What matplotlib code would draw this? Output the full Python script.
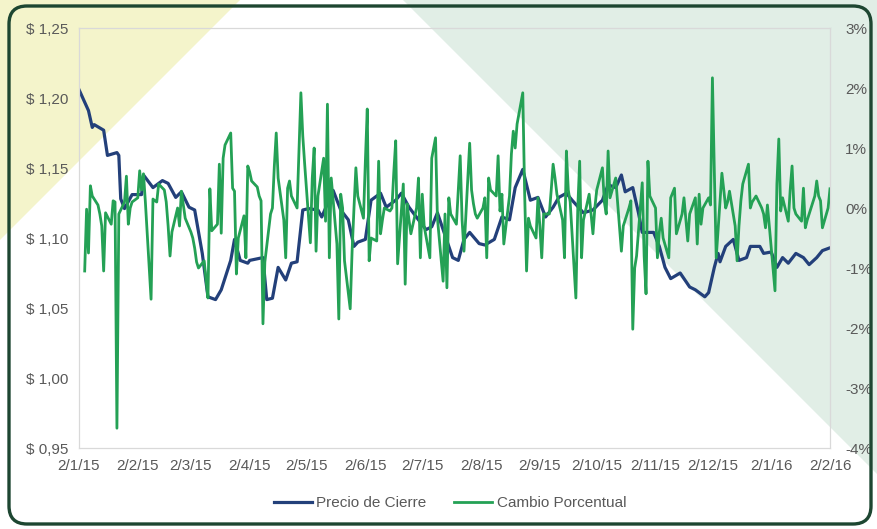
# coding:utf-8
import numpy as np
import pandas as pd
import matplotlib
matplotlib.use('Agg')
import matplotlib.pyplot as plt
from matplotlib.patches import Polygon, FancyBboxPatch
from matplotlib.ticker import FuncFormatter, FixedLocator

plt.rcParams['font.family'] = ['Liberation Sans', 'DejaVu Sans']

# precio de cierre (USD)
fechas_precio = [
    '2015-01-02', '2015-01-07', '2015-01-09', '2015-01-10', '2015-01-15', '2015-01-17', '2015-01-22', '2015-01-23', '2015-01-24', '2015-01-26',
    '2015-01-30', '2015-02-04', '2015-02-05', '2015-02-10', '2015-02-15', '2015-02-18', '2015-02-22', '2015-02-25', '2015-03-01', '2015-03-04',
    '2015-03-08', '2015-03-11', '2015-03-15', '2015-03-18', '2015-03-23', '2015-03-25', '2015-03-28', '2015-04-01', '2015-04-02', '2015-04-09',
    '2015-04-11', '2015-04-14', '2015-04-17', '2015-04-21', '2015-04-24', '2015-04-27', '2015-04-30', '2015-05-03', '2015-05-08', '2015-05-10',
    '2015-05-16', '2015-05-20', '2015-05-24', '2015-05-27', '2015-05-29', '2015-06-02', '2015-06-05', '2015-06-10', '2015-06-13', '2015-06-18',
    '2015-06-21', '2015-06-25', '2015-06-30', '2015-07-04', '2015-07-07', '2015-07-10', '2015-07-13', '2015-07-18', '2015-07-21', '2015-07-24',
    '2015-07-27', '2015-08-01', '2015-08-04', '2015-08-09', '2015-08-13', '2015-08-17', '2015-08-20', '2015-08-24', '2015-08-28', '2015-09-01',
    '2015-09-05', '2015-09-09', '2015-09-12', '2015-09-16', '2015-09-19', '2015-09-25', '2015-09-30', '2015-10-05', '2015-10-08', '2015-10-12',
    '2015-10-15', '2015-10-17', '2015-10-21', '2015-10-24', '2015-10-26', '2015-11-01', '2015-11-04', '2015-11-07', '2015-11-10', '2015-11-15',
    '2015-11-20', '2015-11-23', '2015-11-28', '2015-11-30', '2015-12-03', '2015-12-05', '2015-12-06', '2015-12-09', '2015-12-13', '2015-12-16',
    '2015-12-20', '2015-12-22', '2015-12-27', '2015-12-29', '2016-01-02', '2016-01-05', '2016-01-08', '2016-01-11', '2016-01-15', '2016-01-19',
    '2016-01-22', '2016-01-26', '2016-01-29', '2016-02-02']
precio_cierre = [
    1.206, 1.191, 1.179, 1.181, 1.177, 1.159, 1.161, 1.159, 1.128, 1.121,
    1.131, 1.131, 1.145, 1.136, 1.141, 1.139, 1.129, 1.133, 1.122, 1.120,
    1.089, 1.058, 1.056, 1.063, 1.084, 1.099, 1.084, 1.082, 1.084, 1.086,
    1.056, 1.057, 1.079, 1.070, 1.082, 1.083, 1.120, 1.121, 1.120, 1.115,
    1.134, 1.120, 1.113, 1.094, 1.097, 1.099, 1.127, 1.132, 1.122, 1.127,
    1.132, 1.122, 1.113, 1.106, 1.108, 1.118, 1.106, 1.086, 1.084, 1.099,
    1.104, 1.096, 1.095, 1.099, 1.115, 1.113, 1.136, 1.149, 1.127, 1.129,
    1.115, 1.122, 1.129, 1.132, 1.127, 1.118, 1.120, 1.127, 1.138, 1.136,
    1.145, 1.133, 1.136, 1.118, 1.104, 1.104, 1.094, 1.079, 1.071, 1.075,
    1.065, 1.063, 1.058, 1.061, 1.079, 1.089, 1.083, 1.094, 1.099, 1.084,
    1.086, 1.094, 1.094, 1.089, 1.090, 1.079, 1.086, 1.082, 1.089, 1.086,
    1.081, 1.086, 1.091, 1.093]

# cambio porcentual diario (%), un valor por dia habil desde el 5/1/15
inicio_cambio = '2015-01-05'
cambio_porcentual = [
    -1.05, -0.02, -0.75, 0.37, 0.20, 0.05, -0.10, -0.30, -1.05, -0.08,
    -0.27, 0.12, 0.10, -3.67, -0.10, 0.10, 0.53, -0.27, 0.00, 0.10,
    0.17, 0.62, 0.30, 0.57, 0.10, -1.52, 0.15, 0.12, 0.10, 0.40,
    0.30, 0.10, -0.30, -0.80, -0.40, 0.00, -0.30, 0.28, 0.05, -0.17,
    -0.40, -0.50, -0.67, -0.90, -1.00, -0.88, -1.20, -1.50, 0.32, -0.38,
    -0.27, 0.73, -0.42, 0.83, 1.05, 1.25, 0.33, 0.28, -1.10, -0.50,
    -0.13, -0.83, 0.70, 0.60, 0.45, 0.35, 0.20, 0.12, -1.93, -0.90,
    -0.10, 0.00, 0.70, 1.25, 0.50, -0.20, -0.83, 0.33, 0.45, 0.20,
    0.00, 0.95, 1.92, 1.20, 0.73, -0.58, 0.50, 1.00, -0.72, 0.20,
    0.83, -0.22, 1.73, -0.83, 0.50, -0.60, -1.85, 0.23, 0.00, -0.88,
    -1.68, -0.72, 0.00, 0.67, 0.20, -0.17, 0.78, 1.65, -0.88, -0.50,
    -0.55, 0.78, -0.43, -0.20, 0.00, -0.05, 0.00, 0.60, 1.12, -0.93,
    0.40, -1.27, 0.07, -0.20, -0.43, 0.00, 0.50, -0.83, 0.23, -0.30,
    -0.83, 0.83, 1.00, 1.17, -0.17, -1.22, -0.10, -1.33, 0.17, -0.10,
    -0.27, 0.30, 0.87, -0.20, -0.72, 1.08, 0.30, 0.07, -0.10, -0.17,
    0.00, 0.17, -0.83, 0.50, 0.30, 0.20, 0.87, -0.05, 0.23, -0.60,
    0.20, 0.90, 1.28, 1.00, 1.40, 1.92, 0.23, -1.05, -0.17, -0.30,
    -0.50, 0.17, -0.30, -0.83, -0.10, -0.10, 0.30, 0.73, 0.50, 0.23,
    -0.20, -0.83, 0.95, 0.30, 0.10, -1.50, 0.00, 0.78, -0.83, -0.20,
    0.23, -0.10, -0.43, 0.00, 0.30, 0.67, 0.10, -0.10, 0.95, 0.17,
    0.50, 0.10, -0.30, -0.72, -0.30, 0.00, 0.12, -2.02, -1.00, -0.80,
    0.42, -0.80, -1.43, 0.78, 0.20, 0.00, -0.83, -0.40, -0.17, -0.50,
    -0.83, 0.17, 0.25, 0.33, -0.43, -0.10, 0.17, -0.20, -0.55, -0.10,
    0.17, -0.60, 0.23, -0.27, 0.00, 0.17, 0.05, 2.17, 0.62, -0.83,
    0.58, 0.30, 0.00, 0.10, 0.28, -0.30, -0.88, -0.30, 0.12, 0.40,
    0.73, 0.00, 0.10, 0.15, 0.20, 0.00, -0.10, -0.33, 0.05, -0.30,
    -1.38, 0.40, 1.15, -0.05, 0.17, -0.22, 0.30, 0.70, 0.00, -0.10,
    -0.22, 0.33, -0.33, -0.20, -0.10, 0.20, 0.45, 0.20, 0.12, -0.33,
    0.00, 0.32]

fechas_ticks = ['2015-01-02', '2015-02-02', '2015-03-02', '2015-04-02', '2015-05-02',
                '2015-06-02', '2015-07-02', '2015-08-02', '2015-09-02', '2015-10-02',
                '2015-11-02', '2015-12-02', '2016-01-02', '2016-02-02']
ticks_precio = [0.95, 1.00, 1.05, 1.10, 1.15, 1.20, 1.25]
ticks_cambio = [-4, -3, -2, -1, 0, 1, 2, 3]

W, H = 877, 529
gris_texto = '#595959'
gris_marco = '#d9d9d9'

fig = plt.figure(figsize=(W / 100, H / 100), dpi=100)
fig.patch.set_facecolor('white')

# fondo: triangulo amarillo arriba a la izquierda y franja verde a la derecha
fig.add_artist(Polygon([(0, 1), (240 / W, 1), (0, 1 - 240 / H)], closed=True,
                       transform=fig.transFigure, facecolor='#f4f4cb', edgecolor='none', zorder=0))
fig.add_artist(Polygon([(403 / W, 1), (1, 1), (1, 1 - 474 / H)], closed=True,
                       transform=fig.transFigure, facecolor='#e1eee6', edgecolor='none', zorder=0))
fig.add_artist(FancyBboxPatch((9, 5), 862, 518, boxstyle='round,pad=0,rounding_size=18',
                              transform=None, fill=False, edgecolor='#1d4631', linewidth=2.4, zorder=1))

ax = fig.add_axes([79 / W, 1 - 448 / H, (830 - 79) / W, (448 - 28) / H])
ax.set_facecolor('none')
ax2 = ax.twinx()
ax2.set_facecolor('none')

fp = pd.to_datetime(fechas_precio)
fc = pd.bdate_range(inicio_cambio, periods=len(cambio_porcentual))

l1, = ax.plot(fp, precio_cierre, color='#23407a', linewidth=2.3, label='Precio de Cierre',
              solid_joinstyle='round')
l2, = ax2.plot(fc, cambio_porcentual, color='#24a155', linewidth=2.0, label='Cambio Porcentual',
               solid_joinstyle='round')

ft = pd.to_datetime(fechas_ticks)
ax.set_xlim(ft[0], ft[-1])
ax.xaxis.set_major_locator(FixedLocator(matplotlib.dates.date2num(ft)))
ax.set_xticklabels([f"{d.day}/{d.month}/{d.strftime('%y')}" for d in ft])

ax.set_ylim(0.95, 1.25)
ax.set_yticks(ticks_precio)
ax.yaxis.set_major_formatter(FuncFormatter(lambda v, p: '\\$ ' + f'{v:.2f}'.replace('.', ',')))
ax2.set_ylim(-4, 3)
ax2.set_yticks(ticks_cambio)
ax2.yaxis.set_major_formatter(FuncFormatter(lambda v, p: f'{v:.0f}%'))

for a in (ax, ax2):
    for s in a.spines.values():
        s.set_color(gris_marco)
        s.set_linewidth(0.8)
ax.tick_params(axis='x', length=0, pad=8, labelsize=11, colors=gris_texto)
ax.tick_params(axis='y', length=0, pad=8, labelsize=11, colors=gris_texto)
ax2.tick_params(axis='y', length=0, pad=11, labelsize=11, colors=gris_texto)

fig.legend(handles=[l1, l2], loc='center', bbox_to_anchor=(450 / W, 1 - 503 / H), ncol=2,
           frameon=False, fontsize=11, handlelength=2.5, handletextpad=0.3,
           columnspacing=1.8, labelcolor=gris_texto)

fig.savefig('out.png', dpi=100)
